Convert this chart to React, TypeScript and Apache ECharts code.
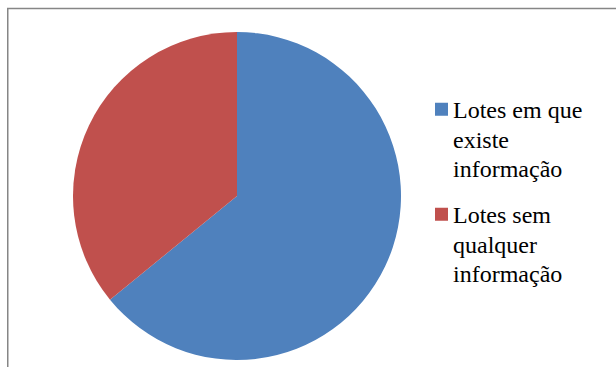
import React, { useEffect, useRef } from "react";
import * as echarts from "echarts";

const categories = ["Lotes em que\nexiste\ninformação", "Lotes sem\nqualquer\ninformação"];
const values = [64.1, 35.9];
const colors = ["#4F81BD", "#C0504D"];

// Legend marker: a 13px square near the top of a tall (13 x 88.5) box, so that it lines up with the first text line
const legendIcon =
  "path://M0,0h0.01v0.01h-0.01z M0,7.5h13v13h-13z M0,88.49h0.01v0.01h-0.01z";

export default function App() {
  const ref = useRef<HTMLDivElement>(null);
  useEffect(() => {
    if (!ref.current) return;
    const chart = echarts.init(ref.current, null, { renderer: "svg" });
    chart.setOption({
      animation: false,
      backgroundColor: "#fff",
      textStyle: { fontFamily: "Liberation Serif" },
      graphic: [
        {
          type: "rect",
          shape: { x: 7.75, y: 8.5, width: 800, height: 500 },
          style: { fill: "none", stroke: "#868686", lineWidth: 1.5 },
          silent: true,
        },
      ],
      legend: {
        orient: "vertical",
        left: 435,
        top: 95.25,
        padding: 0,
        itemGap: 16.5,
        itemWidth: 13,
        itemHeight: 88.5,
        icon: legendIcon,
        selectedMode: false,
        data: categories,
        textStyle: {
          fontFamily: "Liberation Serif",
          fontSize: 24,
          lineHeight: 29.5,
          color: "#000",
        },
      },
      series: [
        {
          type: "pie",
          center: [237, 196],
          radius: 164,
          startAngle: 90,
          clockwise: true,
          label: { show: false },
          labelLine: { show: false },
          emphasis: { disabled: true },
          itemStyle: { borderWidth: 0 },
          data: categories.map((name, i) => ({
            name,
            value: values[i],
            itemStyle: { color: colors[i] },
          })),
        },
      ],
    });
    return () => chart.dispose();
  }, []);
  return (
    <div
      ref={ref}
      style={{ position: "fixed", left: 0, top: 0, width: 616, height: 367 }}
    />
  );
}
